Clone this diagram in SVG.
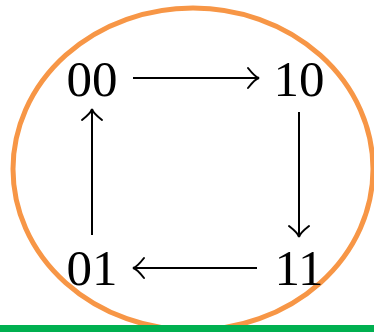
<svg xmlns="http://www.w3.org/2000/svg" width="374" height="332" viewBox="0 0 374 332">
  <style>
    .lbl { font-family: "Liberation Serif", "DejaVu Serif", serif; font-size: 51px; fill: #000; text-anchor: middle; }
    .edge { stroke: #000; stroke-width: 2; fill: none; }
    .head { stroke: #000; stroke-width: 2; fill: none; stroke-linecap: round; }
  </style>
  <defs>
    <!-- hooked arrow tip pointing right; tip at origin -->
    <path id="tip" class="head" d="M -11 -10 Q -4 -1 0 0 Q -4 1 -11 10"/>
  </defs>
  <rect width="374" height="332" fill="#fff"/>
  <ellipse cx="193" cy="169" rx="180" ry="161" fill="none" stroke="#F79646" stroke-width="5"/>
  <rect x="0" y="325" width="374" height="7" fill="#00B050"/>

  <g id="connectors">
    <line class="edge" x1="133" y1="78" x2="258" y2="78"/>
    <use href="#tip" transform="translate(259 78)"/>
    <line class="edge" x1="299" y1="112" x2="299" y2="236"/>
    <use href="#tip" transform="translate(299 237) rotate(90)"/>
    <line class="edge" x1="257" y1="268" x2="134" y2="268"/>
    <use href="#tip" transform="translate(133 268) rotate(180)"/>
    <line class="edge" x1="92" y1="235" x2="92" y2="110"/>
    <use href="#tip" transform="translate(92 109) rotate(-90)"/>
  </g>

  <g id="n00"><text class="lbl" x="92" y="96">00</text></g>
  <g id="n10"><text class="lbl" x="299" y="96">10</text></g>
  <g id="n11"><text class="lbl" x="299" y="285">11</text></g>
  <g id="n01"><text class="lbl" x="92" y="285">01</text></g>
</svg>
